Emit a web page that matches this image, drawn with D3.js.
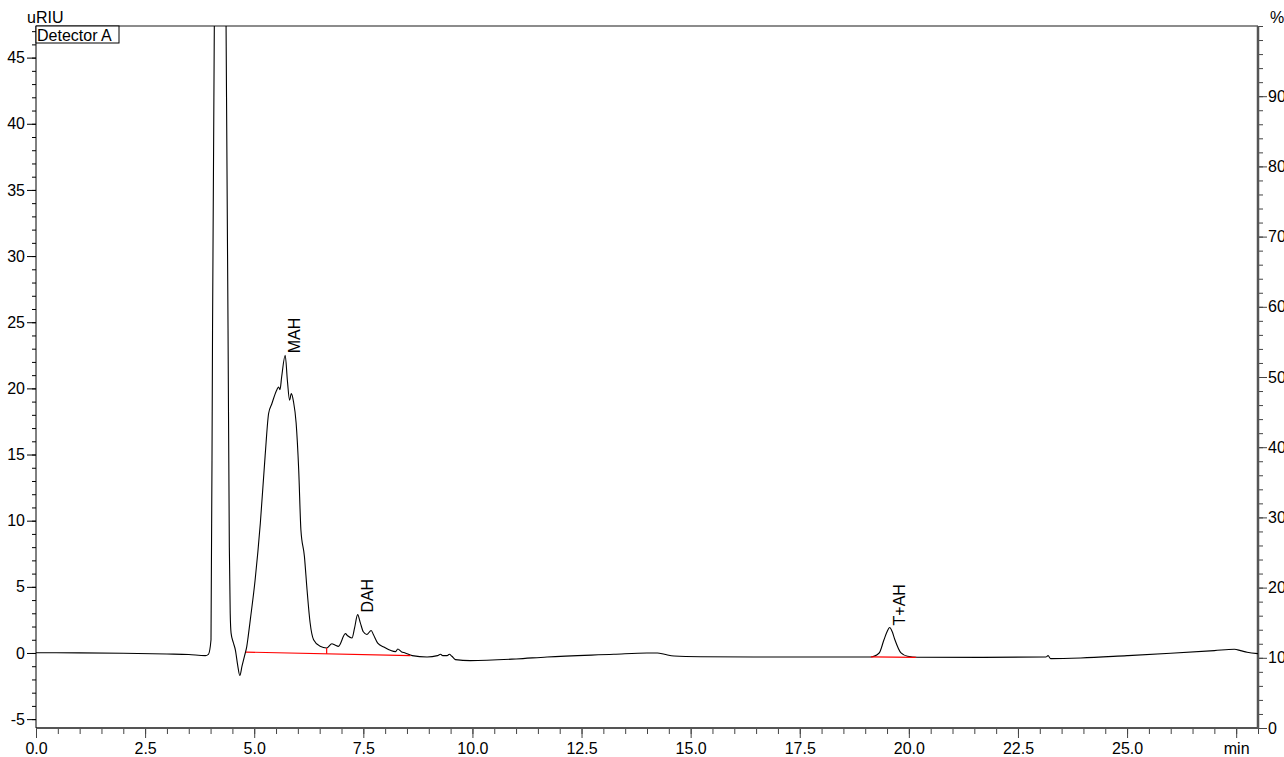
<!DOCTYPE html>
<html>
<head>
<meta charset="utf-8">
<script src="https://cdn.jsdelivr.net/npm/d3@7"></script>
<style>
  body { margin: 0; background: #fff; }
  text { font-family: "Liberation Sans", Arial, sans-serif; font-size: 16px; fill: #000; }
</style>
</head>
<body>
<div id="chart"></div>
<script>
// detector trace, [min, uRIU]
const trace = [
    [0.0, 0.02], [1.0, 0.01], [2.0, -0.02], [3.0, -0.08], [3.5, -0.12], [3.88, -0.2],
    [3.95, -0.1], [4.01, 1.0], [4.045, 24.4], [4.10, 55], [4.22, 120], [4.34, 55],
    [4.40, 24.5], [4.43, 8.0], [4.45, 3.0], [4.47, 1.5], [4.52, 0.8], [4.57, 0.2],
    [4.62, -0.9], [4.67, -1.7], [4.72, -1.0], [4.78, -0.2], [4.83, 0.5], [4.86, 1.2],
    [4.91, 2.5], [5.02, 5.5], [5.14, 9.8], [5.25, 14.9], [5.33, 18.1], [5.40, 18.8],
    [5.52, 19.9], [5.56, 20.1], [5.59, 19.9], [5.63, 20.9], [5.71, 22.5], [5.76, 20.6],
    [5.81, 19.1], [5.85, 19.6], [5.90, 19.0], [5.96, 17.4], [6.02, 13.8], [6.07, 9.3],
    [6.15, 7.3], [6.21, 4.8], [6.28, 2.3], [6.36, 1.0], [6.51, 0.5], [6.66, 0.38],
    [6.78, 0.7], [6.85, 0.6], [6.93, 0.5], [7.09, 1.46], [7.14, 1.3], [7.24, 1.13],
    [7.30, 1.9], [7.37, 2.9], [7.43, 2.3], [7.50, 1.6], [7.58, 1.4], [7.68, 1.7],
    [7.73, 1.4], [7.83, 0.75], [7.97, 0.45], [8.12, 0.2], [8.24, 0.1], [8.29, 0.3],
    [8.37, 0.1], [8.46, 0.0], [8.62, -0.2], [8.96, -0.3], [9.2, -0.2], [9.27, -0.1],
    [9.32, -0.2], [9.42, -0.2], [9.47, -0.1], [9.53, -0.25], [9.61, -0.5], [9.95, -0.58],
    [11.0, -0.45], [11.71, -0.3], [13.24, -0.1], [14.0, 0.0], [14.24, 0.0], [14.4, -0.1],
    [14.62, -0.23], [15.23, -0.28], [16.45, -0.3], [18.5, -0.3], [19.13, -0.3], [19.32, 0.0],
    [19.43, 1.0], [19.50, 1.6], [19.56, 1.93], [19.62, 1.6], [19.68, 1.0], [19.82, 0.0],
    [19.97, -0.25], [20.2, -0.32], [21.65, -0.33], [23.14, -0.3], [23.19, -0.2], [23.25, -0.43],
    [23.94, -0.38], [25.0, -0.2], [26.0, -0.02], [27.0, 0.18], [27.46, 0.28], [27.6, 0.18],
    [27.75, 0.05], [28.0, -0.05]
];

// named peaks: apex time / height
const peakNames = ["MAH", "DAH", "T+AH"];
const peakTimes = [5.71, 7.37, 19.56];
const peakHeights = [22.5, 2.9, 1.93];

// red integration baselines [t1, v1, t2, v2]
const baselines = [
    [4.81, 0.07, 8.58, -0.2],
    [19.13, -0.3, 20.16, -0.33]
];
// peak split drop line [t, top, bottom]
const dropLines = [[6.66, 0.38, -0.06]];

const xTicks = [0, 2.5, 5, 7.5, 10, 12.5, 15, 17.5, 20, 22.5, 25, 27.5];
const yTicks = [-5, 0, 5, 10, 15, 20, 25, 30, 35, 40, 45];
const pctTicks = [0, 10, 20, 30, 40, 50, 60, 70, 80, 90];

const render = () => {
    const width = 1284, height = 757;
    const left = 36, right = 1258, top = 26, bottom = 728;

    const svg = d3.select("#chart").append("svg")
        .attr("width", width)
        .attr("height", height);

    const x = d3.scaleLinear().domain([0, 28]).range([left, right]);
    const y = d3.scaleLinear().domain([-5.67, 47.39]).range([bottom, top]);
    const yp = d3.scaleLinear().domain([0, 100]).range([bottom, top]);

    svg.append("clipPath").attr("id", "plot")
        .append("rect")
        .attr("x", left).attr("y", top)
        .attr("width", right - left).attr("height", bottom - top);

    // frame top line
    svg.append("line")
        .attr("x1", left).attr("x2", right)
        .attr("y1", top).attr("y2", top)
        .attr("stroke", "#666").attr("stroke-width", 1.5);

    // x axis
    const xMinor = d3.range(0, 28.01, 0.5);
    const gx = svg.append("g").attr("transform", `translate(0,${bottom})`);
    gx.call(d3.axisBottom(x).tickValues(xMinor).tickSize(6).tickFormat(""));
    gx.call(g => g.selectAll("line").attr("stroke", "#444"));
    const gx2 = svg.append("g").attr("transform", `translate(0,${bottom})`)
        .call(d3.axisBottom(x).tickValues(xTicks).tickSize(10).tickPadding(5)
            .tickFormat(d => d === 27.5 ? "min" : d3.format(".1f")(d)));
    gx2.selectAll("line").attr("stroke", "#444");
    gx2.selectAll("text").attr("font-size", 16).attr("fill", "#000")
        .attr("font-family", "'Liberation Sans', Arial, sans-serif");
    svg.selectAll(".domain").remove();
    svg.append("line")
        .attr("x1", left).attr("x2", right)
        .attr("y1", bottom).attr("y2", bottom)
        .attr("stroke", "#555").attr("stroke-width", 2);

    // left axis
    const yMinor = d3.range(-5, 47.01, 1);
    const gy = svg.append("g").attr("transform", `translate(${left},0)`);
    gy.call(d3.axisLeft(y).tickValues(yMinor).tickSize(4).tickFormat(""));
    const gy2 = svg.append("g").attr("transform", `translate(${left},0)`)
        .call(d3.axisLeft(y).tickValues(yTicks).tickSize(9).tickPadding(2)
            .tickFormat(d => String(d)));
    gy2.selectAll("text").attr("font-size", 16).attr("fill", "#000")
        .attr("font-family", "'Liberation Sans', Arial, sans-serif");
    gy.select(".domain").remove();
    gy2.select(".domain").remove();
    svg.append("line")
        .attr("x1", left).attr("x2", left)
        .attr("y1", top).attr("y2", bottom)
        .attr("stroke", "#000").attr("stroke-width", 1);

    // right axis (%)
    const pMinor = d3.range(0, 100.01, 2);
    const gp = svg.append("g").attr("transform", `translate(${right},0)`);
    gp.call(d3.axisRight(yp).tickValues(pMinor).tickSize(5).tickFormat(""));
    gp.selectAll("line").attr("stroke", "#444");
    const gp2 = svg.append("g").attr("transform", `translate(${right},0)`)
        .call(d3.axisRight(yp).tickValues(pctTicks).tickSize(9).tickPadding(1));
    gp2.selectAll("line").attr("stroke", "#444");
    gp2.selectAll("text").attr("font-size", 16).attr("fill", "#000")
        .attr("font-family", "'Liberation Sans', Arial, sans-serif");
    gp.select(".domain").remove();
    gp2.select(".domain").remove();
    svg.append("line")
        .attr("x1", right).attr("x2", right)
        .attr("y1", top).attr("y2", bottom + 1)
        .attr("stroke", "#555").attr("stroke-width", 2.5);

    // unit labels
    svg.append("text").attr("x", 27).attr("y", 23).text("uRIU");
    svg.append("text").attr("x", 1270).attr("y", 23).text("%");

    // trace
    const line = d3.line()
        .x(d => x(d[0])).y(d => y(d[1]))
        .curve(d3.curveMonotoneX);

    const plot = svg.append("g").attr("clip-path", "url(#plot)");
    plot.append("path")
        .datum(trace)
        .attr("fill", "none")
        .attr("stroke", "#000")
        .attr("stroke-width", 1.1)
        .attr("d", line);

    // integration baselines
    plot.selectAll(".base")
        .data(baselines)
        .join("line")
        .attr("x1", d => x(d[0])).attr("y1", d => y(d[1]))
        .attr("x2", d => x(d[2])).attr("y2", d => y(d[3]))
        .attr("stroke", "#f00").attr("stroke-width", 1.2);
    plot.selectAll(".drop")
        .data(dropLines)
        .join("line")
        .attr("x1", d => x(d[0])).attr("x2", d => x(d[0]))
        .attr("y1", d => y(d[1])).attr("y2", d => y(d[2]))
        .attr("stroke", "#f00").attr("stroke-width", 1.2);

    // peak names, rotated
    svg.selectAll(".peak")
        .data(peakNames)
        .join("text")
        .attr("transform", (d, i) => `translate(${x(peakTimes[i]) + 15},${y(peakHeights[i]) - 2}) rotate(-90)`)
        .text(d => d);

    // detector legend box
    svg.append("rect")
        .attr("x", left).attr("y", top)
        .attr("width", 83).attr("height", 17)
        .attr("fill", "#fff").attr("stroke", "#000").attr("stroke-width", 1);
    svg.append("text").attr("x", left + 1).attr("y", top + 15).text("Detector A");
}

render();
</script>
</body>
</html>
